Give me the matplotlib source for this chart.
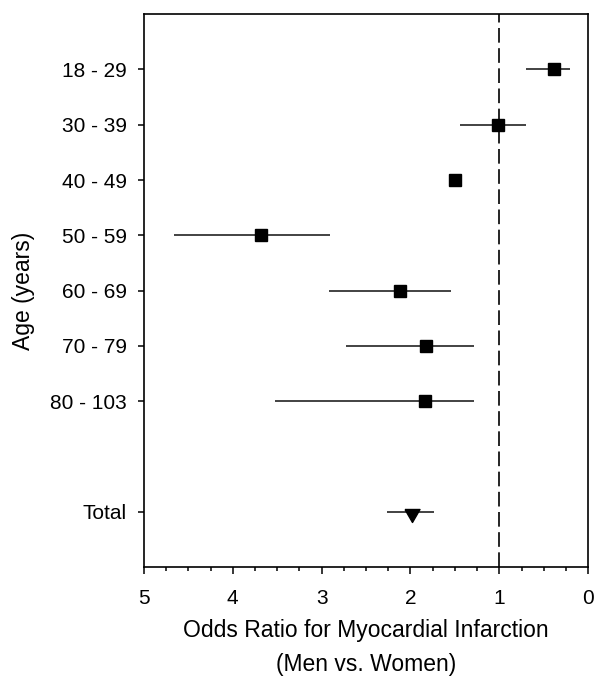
import matplotlib
matplotlib.use("Agg")
import matplotlib.pyplot as plt
from matplotlib.ticker import MultipleLocator

plt.rcParams['font.family'] = ['Liberation Sans', 'DejaVu Sans']

groups = ["18 - 29", "30 - 39", "40 - 49", "50 - 59", "60 - 69", "70 - 79", "80 - 103"]
odds = [0.38, 1.01, 1.50, 3.68, 2.12, 1.83, 1.84]
ci_low = [0.20, 0.70, 1.50, 2.90, 1.54, 1.28, 1.28]
ci_high = [0.70, 1.44, 1.50, 4.66, 2.92, 2.72, 3.52]

total_label = "Total"
total_odds = 1.98
total_low = 1.74
total_high = 2.26

fig = plt.figure(figsize=(6.02, 6.77), dpi=100)
ax = fig.add_axes([0.239, 0.1625, 0.738, 0.8165])

ypos = list(range(len(groups)))
xerr = [[o - l for o, l in zip(odds, ci_low)], [h - o for o, h in zip(odds, ci_high)]]
ax.errorbar(odds, ypos, xerr=xerr, fmt='s', color='black', ecolor='#222222',
            elinewidth=1.2, markersize=9, capsize=0, zorder=3)

# downward triangle whose top edge sits slightly above the centre line
tri = [(-0.75, 0.3), (0.75, 0.3), (0.0, -1.0), (-0.75, 0.3)]
ty = len(groups) + 1
ax.errorbar([total_odds], [ty], xerr=[[total_odds - total_low], [total_high - total_odds]],
            fmt='none', ecolor='#222222', elinewidth=1.2, capsize=0, zorder=3)
ax.plot([total_odds], [ty], linestyle='none', marker=tri, color='black',
        markersize=14.4, zorder=4)

ax.axvline(1, color='black', linestyle=(0, (8.8, 3.3)), linewidth=1.2, zorder=1)

ax.set_xlim(5, 0)
ax.set_ylim(ty + 1, -1)
ax.set_yticks(ypos + [ty])
ax.set_yticklabels(groups + [total_label])
ax.xaxis.set_major_locator(MultipleLocator(1))
ax.xaxis.set_minor_locator(MultipleLocator(0.25))
ax.tick_params(axis='x', which='major', direction='out', length=5, width=1.1,
               labelsize=15, pad=11)
ax.tick_params(axis='y', which='major', direction='out', length=4.5, width=1.1,
               labelsize=15, pad=8)
ax.tick_params(axis='x', which='minor', direction='out', length=3, width=1.1)
for s in ax.spines.values():
    s.set_linewidth(1.2)

ax.set_xlabel("Odds Ratio for Myocardial Infarction\n(Men vs. Women)", fontsize=16.5,
              linespacing=1.6, labelpad=8)
ax.set_ylabel("Age (years)", fontsize=16.5)
ax.yaxis.set_label_coords(-0.245, 0.5)

fig.savefig("out.png", dpi=100)
